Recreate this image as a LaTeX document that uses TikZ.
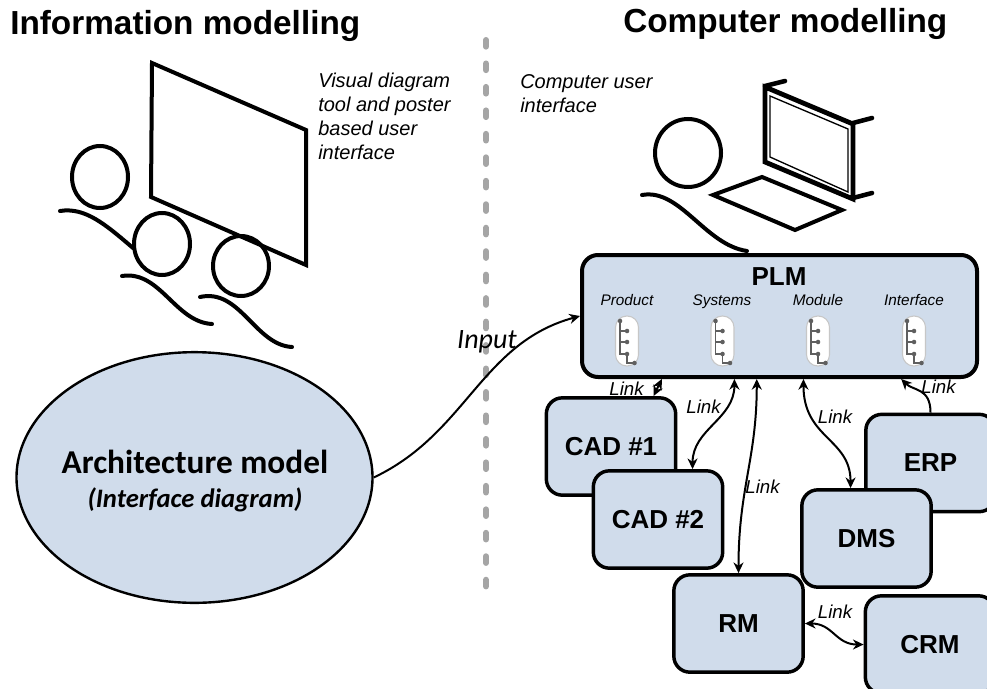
\documentclass[tikz,border=0pt]{standalone}
\usepackage{fontspec}
\setmainfont{Liberation Sans}
\newfontfamily\carl{Carlito}
\usetikzlibrary{shapes.geometric,arrows.meta,calc}
\definecolor{boxfill}{RGB}{208,220,235}
\definecolor{divgray}{RGB}{165,165,165}
\definecolor{icongray}{RGB}{95,95,95}
\begin{document}
\begin{tikzpicture}[x=0.75pt,y=-0.75pt,
  sketch/.style={line width=3pt, line join=miter, line cap=round},
  sysbox/.style={draw, line width=2.6pt, fill=boxfill, rounded corners=12pt,
    minimum width=97pt, minimum height=73pt, inner sep=0pt,
    font=\fontsize{19.5}{20}\selectfont\bfseries},
  linkarr/.style={line width=1.5pt, {Stealth[length=8pt,width=7.5pt]}-{Stealth[length=8pt,width=7.5pt]}},
  onearr/.style={line width=1.5pt, -{Stealth[length=8pt,width=7.5pt]}},
  linklbl/.style={font=\fontsize{14}{16}\selectfont\itshape, inner sep=0pt, anchor=base},
  caption/.style={font=\fontsize{15}{18}\selectfont\itshape, align=left, inner sep=0pt, anchor=north west},
  title/.style={font=\fontsize{25}{30}\selectfont\bfseries, inner sep=0pt, anchor=base west},
  viewlbl/.style={font=\fontsize{11.5}{13}\selectfont\itshape, inner sep=0pt, anchor=base},
  treeicon/.pic={
    \draw[line width=0.8pt, draw=black!22, fill=white, rounded corners=8.5pt] (-11.5,-25) rectangle (11.5,25);
    \draw[line width=1pt, icongray] (-7,-20) -- (-7,13) -- (0,13) -- (0,22) -- (7.5,22);
    \draw[line width=1pt, icongray] (-7,-10) -- (0,-10) (-7,1) -- (0,1);
    \fill[icongray] (-7,-20) circle (1.7pt) (0,-10) circle (1.7pt) (0,1) circle (1.7pt)
      (0,13) circle (1.7pt) (7.5,22) circle (1.7pt);
  }
]
\useasboundingbox (0,0) rectangle (987,688);
\clip (0,0) rectangle (987,688);

% headings
\node[title] (ttlinfo) at (10,35) {Information modelling};
\node[title] (ttlcomp) at (623,33) {Computer modelling};

% divider between the two halves
\draw[divgray, line width=4.5pt, line cap=round, dash pattern=on 5pt off 12.6pt] (486,40) -- (486,603);

% poster wall with three viewers
\draw[sketch] (152,63) -- (306,130) -- (306,265) -- (151,197) -- cycle;
\draw[sketch] (100,177) ellipse [x radius=28, y radius=31];
\draw[sketch] (162,244) ellipse [x radius=28, y radius=31];
\draw[sketch] (241,266) ellipse [x radius=28, y radius=30];
\draw[sketch] (60,211) .. controls (85,207) and (105,224) .. (133,248);
\draw[sketch] (122,276) .. controls (160,270) and (175,322) .. (212,324);
\draw[sketch] (200,297) .. controls (240,288) and (255,345) .. (292,347);
\node[caption] (capposter) at (318,73) {Visual diagram\\tool and poster\\based user\\interface};

% computer user at a laptop
\node[caption] (capcomp) at (520,74) {Computer user\\interface};
\draw[sketch] (688,153) ellipse [x radius=33, y radius=34];
\draw[sketch] (642,195) .. controls (680,188) and (705,245) .. (747,251);
\draw[sketch] (713,195) -- (762,177) -- (842,210) -- (795,230) -- cycle;
\draw[line width=3.6pt, line join=miter] (765,87) -- (853,124) -- (853,199) -- (765,162) -- cycle;
\draw[line width=1pt] (770,96) -- (848,129) -- (848,192) -- (770,157) -- cycle;
\draw[line width=3.4pt, line cap=round] (765,86) -- (785,81) (853,123) -- (872,118) (853,198) -- (872,193);

% architecture model
\node[ellipse, draw, line width=1.8pt, fill=boxfill, minimum width=267pt, minimum height=188pt, inner sep=0pt] (arch) at (194.5,477.5) {};
\node[font=\carl\fontsize{25}{28}\selectfont\bfseries, inner sep=0pt, anchor=base] (archttl) at (195,473) {Architecture model};
\node[font=\carl\fontsize{20}{24}\selectfont\bfseries\itshape, inner sep=0pt, anchor=base] (archsub) at (195,507) {(Interface diagram)};

% PLM system with its four views
\node[draw, line width=3pt, fill=boxfill, rounded corners=12pt, minimum width=296.25pt, minimum height=91.5pt, inner sep=0pt] (plm) at (779.5,316) {};
\node[font=\fontsize{19.5}{20}\selectfont\bfseries, inner sep=0pt, anchor=base] (plmttl) at (779,285) {PLM};
\node[viewlbl] (vprod) at (627,305) {Product};
\node[viewlbl] (vsys) at (722,305) {Systems};
\node[viewlbl] (vmod) at (818,305) {Module};
\node[viewlbl] (vint) at (914,305) {Interface};
\pic at (627,341) {treeicon};
\pic at (722.5,341) {treeicon};
\pic at (818,341) {treeicon};
\pic at (914,341) {treeicon};

% connected systems
\node[sysbox] (cad1) at (611,446.5) {CAD \#1};
\node[sysbox] (cad2) at (658,519.5) {CAD \#2};
\node[sysbox] (rm) at (738.5,623.5) {RM};
\node[sysbox] (erp) at (930.5,463) {ERP};
\node[sysbox] (dms) at (866.5,538.5) {DMS};
\node[sysbox] (crm) at (930,644.5) {CRM};

% input from the architecture model
\draw[onearr] (arch.east) .. controls +(93,-44) and +(-99,27) .. (plm.west);
\node[font=\carl\fontsize{21}{24}\selectfont\itshape, inner sep=0pt, anchor=base] (inputlbl) at (487,348) {Input};

% links
\draw[linkarr] ($(cad1.north west)!0.82!(cad1.north east)$) -- ($(plm.south west)!0.205!(plm.south east)$);
\draw[linkarr] ($(plm.south west)!0.387!(plm.south east)$) .. controls +(0,40) and +(0,-40) .. ($(cad2.north west)!0.76!(cad2.north east)$);
\draw[linkarr] ($(plm.south west)!0.443!(plm.south east)$) .. controls +(0,80) and +(0,-85) .. (rm.north);
\draw[linkarr] ($(plm.south west)!0.56!(plm.south east)$) .. controls +(0,60) and +(0,-50) .. ($(dms.north west)!0.38!(dms.north east)$);
\draw[onearr] (erp.north) .. controls +(0,-25) and +(12,12) .. ($(plm.south west)!0.805!(plm.south east)$);
\draw[linkarr] (rm.east) .. controls +(28,0) and +(-28,0) .. (crm.west);

\node[linklbl] (l1) at (626.5,395) {Link};
\node[linklbl] (l2) at (703.5,413) {Link};
\node[linklbl] (l3) at (762.5,493) {Link};
\node[linklbl] (l4) at (835,423) {Link};
\node[linklbl] (l5) at (938.5,393) {Link};
\node[linklbl] (l6) at (835,618) {Link};
\end{tikzpicture}
\end{document}
